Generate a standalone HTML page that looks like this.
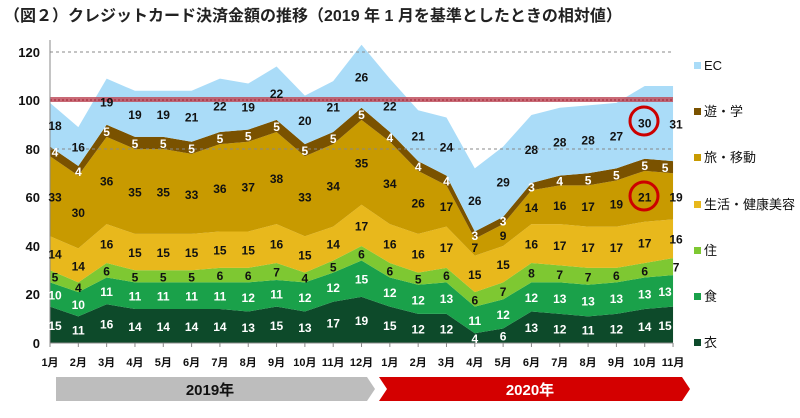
<!DOCTYPE html>
<html><head><meta charset="utf-8"><style>
body{margin:0;background:#fff;width:800px;height:413px;overflow:hidden;font-family:"Liberation Sans","Noto Sans CJK JP",sans-serif}
svg text{font-family:"Liberation Sans","Noto Sans CJK JP",sans-serif}
</style></head><body>
<svg id="c" width="800" height="413" xmlns="http://www.w3.org/2000/svg">
<text x="4" y="21" font-size="16" font-weight="bold" fill="#222">（図２）クレジットカード決済金額の推移（2019 年 1 月を基準としたときの相対値）</text>
<g id="areas"></g>
<line x1="50" y1="52" x2="673" y2="52" stroke="#888" stroke-dasharray="3,3"/>
<line x1="50" y1="149" x2="673" y2="149" stroke="#888" stroke-dasharray="3,3"/>
<rect x="50" y="97" width="623" height="5" fill="#c0505e" opacity="0.85"/>
<line x1="50" y1="100" x2="673" y2="100" stroke="#a02030" stroke-dasharray="2,2"/>
<line x1="50" y1="40" x2="50" y2="343" stroke="#888"/>
<line x1="50" y1="343" x2="673" y2="343" stroke="#888"/>
<g font-size="13" font-weight="bold" fill="#111" text-anchor="end">
<text x="40" y="57">120</text><text x="40" y="105">100</text><text x="40" y="154">80</text><text x="40" y="202">60</text><text x="40" y="251">40</text><text x="40" y="299">20</text><text x="40" y="348">0</text>
</g>
<g id="labels"></g>
<g id="xl" font-size="11" font-weight="bold" fill="#111" text-anchor="middle"></g>
<circle cx="644" cy="121" r="14" fill="none" stroke="#cc0000" stroke-width="3"/>
<circle cx="644" cy="196" r="14" fill="none" stroke="#cc0000" stroke-width="3"/>
<polygon points="56,377 367,377 375,389 367,401 56,401" fill="#bdbdbd"/>
<text x="210" y="395" font-size="15" font-weight="bold" text-anchor="middle" fill="#111">2019年</text>
<polygon points="379,377 682,377 690,389 682,401 379,401 387,389" fill="#d40000"/>
<text x="530" y="395" font-size="15" font-weight="bold" text-anchor="middle" fill="#fff">2020年</text>
<g font-size="13" fill="#111">
<rect x="694" y="62" width="7" height="7" fill="#aadcf8"/><text x="704" y="70">EC</text>
<rect x="694" y="108" width="7" height="7" fill="#7a5200"/><text x="704" y="116">遊・学</text>
<rect x="694" y="154" width="7" height="7" fill="#c89a00"/><text x="704" y="162">旅・移動</text>
<rect x="694" y="201" width="7" height="7" fill="#e8b81c"/><text x="704" y="209">生活・健康美容</text>
<rect x="694" y="247" width="7" height="7" fill="#7ec832"/><text x="704" y="255">住</text>
<rect x="694" y="293" width="7" height="7" fill="#1aa14a"/><text x="704" y="301">食</text>
<rect x="694" y="339" width="7" height="7" fill="#0d4a2a"/><text x="704" y="347">衣</text>
</g>
</svg>
<script>
(function(){
var D=[
[15,11,16,14,14,14,14,13,15,13,17,19,15,12,12,4,6,13,12,11,12,14,15],
[10,10,11,11,11,11,11,12,11,12,12,15,12,12,13,11,12,12,13,13,13,13,13],
[5,4,6,5,5,5,6,6,7,4,5,6,6,5,6,6,7,8,7,7,6,6,7],
[14,14,16,15,15,15,15,15,16,15,14,17,16,16,17,15,15,16,17,17,17,17,16],
[33,30,36,35,35,33,36,37,38,33,34,35,34,26,17,7,9,14,16,17,19,21,19],
[4,4,5,5,5,5,5,5,5,5,5,5,4,4,4,3,3,3,4,5,5,5,5],
[18,16,19,19,19,21,22,19,22,20,21,26,22,21,24,26,29,28,28,28,27,30,31]];
var C=["#0d4a2a","#1aa14a","#7ec832","#e8b81c","#c89a00","#7a5200","#aadcf8"];
var T=["#fff","#fff","#111","#111","#111","#fff","#111"];
var X=function(i){return 50+i*28.32},Y=function(v){return 343-v*2.425};
var ns="http://www.w3.org/2000/svg",A=document.getElementById("areas"),L=document.getElementById("labels"),XL=document.getElementById("xl");
var base=D[0].map(function(){return 0});
for(var s=0;s<7;s++){var tp=base.map(function(b,i){return b+D[s][i]});
var p=[];for(var i=0;i<23;i++)p.push(X(i)+","+Y(tp[i]));for(var i=22;i>=0;i--)p.push(X(i)+","+Y(base[i]));
var pg=document.createElementNS(ns,"polygon");pg.setAttribute("points",p.join(" "));pg.setAttribute("fill",C[s]);A.appendChild(pg);
for(var i=0;i<23;i++){var t=document.createElementNS(ns,"text");var x=X(i);if(i==0)x+=5;if(i==22)x+=(T[s]=="#fff"?-8:3);
t.setAttribute("x",x);t.setAttribute("y",Y((base[i]+tp[i])/2)+5);t.setAttribute("font-size","12");t.setAttribute("font-weight","bold");
t.setAttribute("text-anchor","middle");t.setAttribute("fill",T[s]);t.textContent=D[s][i];L.appendChild(t);}
base=tp;}
var m=[1,2,3,4,5,6,7,8,9,10,11,12,1,2,3,4,5,6,7,8,9,10,11];
for(var i=0;i<23;i++){var t=document.createElementNS(ns,"text");t.setAttribute("x",X(i));t.setAttribute("y",366);t.textContent=m[i]+"月";XL.appendChild(t);
var l=document.createElementNS(ns,"line");l.setAttribute("x1",X(i));l.setAttribute("x2",X(i));l.setAttribute("y1",343);l.setAttribute("y2",347);l.setAttribute("stroke","#888");XL.appendChild(l);}
})();
</script>
</body></html>
